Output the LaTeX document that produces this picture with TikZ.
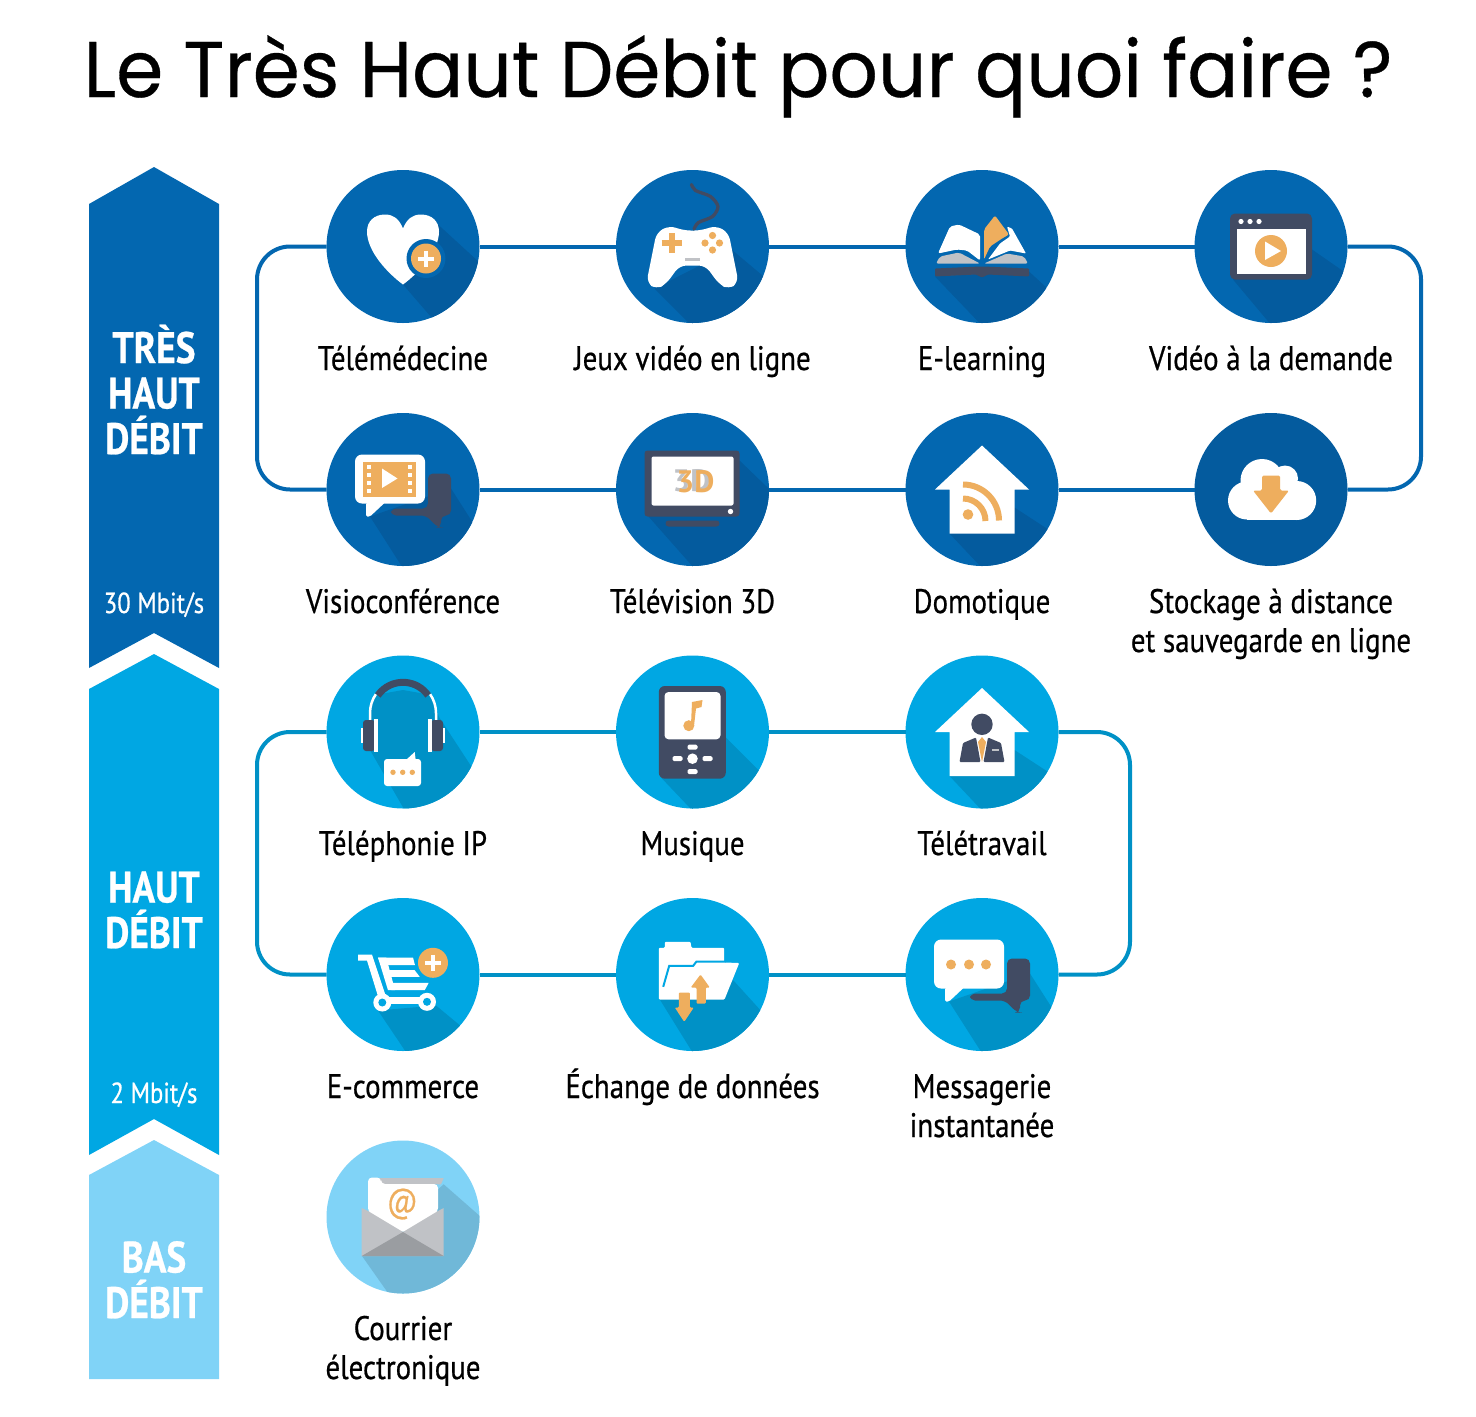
\documentclass[tikz,border=0pt]{standalone}
\usepackage{fontspec}
\usepackage{tikz}
\newfontfamily\labelfont[FakeStretch=0.85,FakeBold=0.6]{PT Sans}
\newfontfamily\plainfont{PT Sans}
\newfontfamily\titlefont[FakeStretch=0.96,FakeBold=0.4]{Poppins}
\definecolor{topblue}{HTML}{0367B0}
\definecolor{topshade}{HTML}{045B9E}
\definecolor{midblue}{HTML}{00A7E3}
\definecolor{midshade}{HTML}{0091C6}
\definecolor{lowblue}{HTML}{80D3F7}
\definecolor{lowshade}{HTML}{70B8D8}
\definecolor{slate}{HTML}{414B63}
\definecolor{peach}{HTML}{EEAE5E}
\definecolor{paleg}{HTML}{C0C2C6}
\definecolor{darkg}{HTML}{9A9DA1}
\tikzset{
disc/.style={circle, minimum size=153pt, inner sep=0pt, outer sep=0pt},
toplink/.style={line width=4pt, topblue},
midlink/.style={line width=4pt, midshade},
lab/.style={anchor=base, align=center, text=black, inner sep=0pt, font=\labelfont\fontsize{34}{39}\selectfont},
band/.style={anchor=base, align=center, text=white, inner sep=0pt, font=\labelfont\bfseries\fontsize{44}{45.5}\selectfont},
speed/.style={anchor=base, text=white, inner sep=0pt, font=\labelfont\fontsize{29}{32}\selectfont},
plusbar/.style={white, line width=4pt}
}
% shadow of an icon, cut by its disc
\newcommand{\castshadow}[2]{\begin{scope}\clip (0,0) circle [radius=76.5pt]; \fill [#1] #2; \end{scope}}
\newcommand{\bubblepair}{
\fill [slate, rounded corners=5pt] (25,-16) -- (48,-16) -- (48,26) -- (38,26) -- (38,38) -- (35,38) -- (23,26) -- (-12,26) -- (-12,19) -- (25,19) -- cycle;
\fill [white, rounded corners=1.5pt] (-37,13) -- (-37,27) -- (-33,27) -- (-18,13) -- cycle;
\fill [white, rounded corners=7pt] (-48,-35) rectangle (22,14);
}
\newcommand{\housebody}{
\fill [white] (0,-44) -- (47,0) -- (32.5,0) -- (32.5,44) -- (-32.5,44) -- (-32.5,0) -- (-47,0) -- cycle;
}
\begin{document}
\begin{tikzpicture}[x=1pt,y=-1pt]
\useasboundingbox (0,0) rectangle (1476,1417);

\node [anchor=base, inner sep=0pt, font=\titlefont\fontsize{79}{90}\selectfont] (title) at (738,97) {Le Très Haut Débit pour quoi faire ?};

% ribbons
\fill [topblue] (89,204) -- (154,167) -- (219,204) -- (219,668) -- (154,633) -- (89,668) -- cycle;
\fill [midblue] (89,689) -- (154,654) -- (219,689) -- (219,1155) -- (154,1119) -- (89,1155) -- cycle;
\fill [lowblue] (89,1175) -- (154,1140) -- (219,1175) -- (219,1379) -- (89,1379) -- cycle;
\node [band] (bandtop) at (154,454) {TRÈS\\HAUT\\DÉBIT};
\node [band] (bandmid) at (154,948) {HAUT\\DÉBIT};
\node [band] (bandlow) at (154,1318) {BAS\\DÉBIT};
\node [speed] (speedtop) at (154,613) {30 Mbit/s};
\node [speed] (speedmid) at (154,1103) {2 Mbit/s};

\foreach \nm/\xc/\yc/\fc in {tele/403/246.5/topblue, jeux/692.5/246.5/topblue, learn/982/246.5/topblue, vod/1271/246.5/topblue,
visio/403/489.5/topblue, tv/692.5/489.5/topblue, domo/982/489.5/topblue, cloud/1271/489.5/topshade,
voip/403/732/midblue, music/692.5/732/midblue, home/982/732/midblue,
shop/403/974.5/midblue, share/692.5/974.5/midblue, chat/982/974.5/midblue,
mail/403/1217/lowblue}
{
\node [disc, fill=\fc] (\nm) at (\xc,\yc) {};
}

\coordinate (topnw) at (257,246.5);
\coordinate (topsw) at (257,489.5);
\coordinate (topne) at (1421,246.5);
\coordinate (topse) at (1421,489.5);
\coordinate (midnw) at (257,732);
\coordinate (midsw) at (257,974.5);
\coordinate (midne) at (1130,732);
\coordinate (midse) at (1130,974.5);

\foreach \a/\b in {tele/jeux, jeux/learn, learn/vod, visio/tv, tv/domo, domo/cloud}
{
\draw [toplink] (\a) -- (\b);
}
\foreach \a/\b in {voip/music, music/home, shop/share, share/chat}
{
\draw [midlink] (\a) -- (\b);
}
\draw [toplink, rounded corners=33pt] (tele) -- (topnw) -- (topsw) -- (visio);
\draw [toplink, rounded corners=33pt] (vod) -- (topne) -- (topse) -- (cloud);
\draw [midlink, rounded corners=33pt] (voip) -- (midnw) -- (midsw) -- (shop);
\draw [midlink, rounded corners=33pt] (home) -- (midne) -- (midse) -- (chat);

\node [lab] (labtele) at (403,370) {Télémédecine};
\node [lab] (labjeux) at (692.5,370) {Jeux vidéo en ligne};
\node [lab] (lablearn) at (982,370) {E-learning};
\node [lab] (labvod) at (1271,370) {Vidéo à la demande};
\node [lab] (labvisio) at (403,613) {Visioconférence};
\node [lab] (labtv) at (692.5,613) {Télévision 3D};
\node [lab] (labdomo) at (982,613) {Domotique};
\node [lab] (labcloud) at (1271,652) {Stockage à distance\\et sauvegarde en ligne};
\node [lab] (labvoip) at (403,855) {Téléphonie IP};
\node [lab] (labmusic) at (692.5,855) {Musique};
\node [lab] (labhome) at (982,855) {Télétravail};
\node [lab] (labshop) at (403,1098) {E-commerce};
\node [lab] (labshare) at (692.5,1098) {Échange de données};
\node [lab] (labchat) at (982,1137) {Messagerie\\instantanée};
\node [lab] (labmail) at (403,1379) {Courrier\\électronique};

% heart
\begin{scope}[shift={(tele)}]
\castshadow{topshade}{(35,-22) -- (95,33) -- (95,95) -- (45,90) -- (0,38) -- cycle}
\fill [white] (0,-18) .. controls (-4,-28) and (-10,-32) .. (-18,-32) .. controls (-29,-32) and (-36,-25) .. (-36,-15) .. controls (-36,5) and (-15,27) .. (0,38) .. controls (15,27) and (36,5) .. (36,-15) .. controls (36,-25) and (29,-32) .. (18,-32) .. controls (10,-32) and (4,-28) .. (0,-18) -- cycle;
\fill [topblue] (23,12) circle [radius=19.5pt];
\fill [peach] (23,12) circle [radius=15pt];
\draw [plusbar] (15,12) -- (31,12) (23,4) -- (23,20);
\end{scope}

% game pad
\begin{scope}[shift={(jeux)}]
\castshadow{topshade}{(39,3) -- (95,50) -- (95,100) -- (20,100) -- (-38,42) -- cycle}
\fill [white, rounded corners=7pt] (-9,-16) -- (-23,-21) -- (-36,-14) -- (-46,36) -- (-36,43) -- (-26,37) -- (-13,19) -- (13,19) -- (26,37) -- (36,43) -- (46,36) -- (36,-14) -- (23,-21) -- (9,-16) -- cycle;
\draw [slate, line width=3.3pt, line cap=round] plot [smooth] coordinates {(1.5,-17.5) (6,-24) (20,-30) (25.5,-40) (18,-50) (3,-56) (-1,-62)};
\draw [peach, line width=6pt] (-31,-3.5) -- (-11,-3.5) (-21,-13.5) -- (-21,6.5);
\foreach \bx/\by in {20/-11, 12.5/-3.5, 27/-3.5, 20/3.5}
{
\fill [peach] (\bx,\by) circle [radius=3.6pt];
}
\draw [paleg, line width=2.5pt] (-7.5,13) -- (7.5,13);
\end{scope}

% book
\begin{scope}[shift={(learn)}]
\castshadow{topshade}{(47,25) -- (85,60) -- (60,110) -- (20,100) -- (-47,30) -- cycle}
\fill [white, rounded corners=2pt] (-44,7) -- (-32,-20) -- (-23,-22) -- (-2,-12) -- (-2,14) -- (-15,4) -- (-25,3) -- cycle;
\fill [peach, rounded corners=2pt] (2,13) -- (2,-17) -- (13,-31) -- (27,-12) -- (20,-8) -- (8,0) -- cycle;
\fill [white, rounded corners=1pt] (6,13) -- (18,-3) -- (28,-10) -- (25,-20) -- (30,-18) -- (44,7) -- (28,4) -- cycle;
\fill [paleg, rounded corners=2pt] (-46,17) -- (-42,10) -- (-23,6) -- (-2,17) -- cycle;
\fill [paleg, rounded corners=2pt] (2,17) -- (25,7) -- (42,10) -- (46,17) -- cycle;
\fill [slate, rounded corners=1pt] (-47,22) -- (-2,20) -- (2,20) -- (47,22) -- (47,30) -- (6,28) -- (0,31) -- (-6,28) -- (-47,30) -- cycle;
\end{scope}

% video window
\begin{scope}[shift={(vod)}]
\castshadow{topshade}{(41,3) -- (100,44) -- (60,110) -- (35,120) -- (-38,33) -- cycle}
\fill [slate, rounded corners=5pt] (-41,-33) rectangle (41,33);
\fill [white] (-34.5,-18) rectangle (35,27);
\foreach \dx in {-30,-21,-12}
{
\fill [white] (\dx,-25) circle [radius=2.6pt];
}
\fill [peach] (0,4.5) circle [radius=16pt];
\fill [white] (-6,-5) -- (10,4.5) -- (-6,13.5) -- cycle;
\end{scope}

% video call
\begin{scope}[shift={(visio)}]
\castshadow{topshade}{(48,-1) -- (85,57) -- (60,110) -- (20,110) -- (-33,27) -- cycle}
\bubblepair
\fill [peach] (-40,-28) rectangle (13,7);
\foreach \sy in {-23,-15,-6.7,1.7}
{
\fill [white] (-36,\sy-2) rectangle (-32,\sy+2);
\fill [white] (4.7,\sy-2) rectangle (8.7,\sy+2);
}
\fill [white] (-21,-21) -- (-5.5,-11) -- (-21,-1.5) -- cycle;
\end{scope}

% television
\begin{scope}[shift={(tv)}]
\castshadow{topshade}{(47,-29) -- (100,22) -- (60,110) -- (25,105) -- (-44,27) -- cycle}
\fill [slate, rounded corners=3pt] (-48,-39) rectangle (47,27);
\fill [white, rounded corners=2pt] (-41,-33) rectangle (41,16);
\fill [white] (38,22) circle [radius=2.7pt];
\fill [slate, rounded corners=3pt] (-27,31) rectangle (27,37);
\node [inner sep=0pt, text=paleg, font=\plainfont\bfseries\fontsize{31}{31}\selectfont] (threedback) at (-1,-9) {3D};
\node [inner sep=0pt, text=peach, font=\plainfont\bfseries\fontsize{31}{31}\selectfont] (threed) at (3,-8) {3D};
\end{scope}

% house with feed
\begin{scope}[shift={(domo)}]
\castshadow{topshade}{(32.5,18) -- (100,62) -- (60,110) -- (25,105) -- (-32.5,44) -- cycle}
\housebody
\fill [peach] (-14,25) circle [radius=5.3pt];
\draw [peach, line width=6pt] (-19,9) arc [start angle=90, end angle=0, radius=22.5pt];
\draw [peach, line width=6pt] (-19,-5) arc [start angle=90, end angle=0, radius=36pt];
\end{scope}

% cloud
\begin{scope}[shift={(cloud)}]
\fill [white] (-24,11) circle [radius=19pt];
\fill [white] (-9,-9) circle [radius=21.5pt];
\fill [white] (14,-11) circle [radius=13pt];
\fill [white] (25.7,11) circle [radius=19.5pt];
\fill [white] (-24,-5) rectangle (25,30.3);
\fill [peach, rounded corners=1.5pt] (-9,-14) -- (9,-14) -- (9,1) -- (18,1) -- (0,24) -- (-18,1) -- (-9,1) -- cycle;
\end{scope}

% headset
\begin{scope}[shift={(voip)}]
\castshadow{midshade}{(-28,-37) -- (0,-42) -- (28,-37) -- (36,-15) -- (85,60) -- (60,110) -- (20,110) -- (-33,18) -- (-33,-19) -- cycle}
\draw [white, line width=2.5pt] (-33,-12) -- (-33,-19) arc [start angle=180, end angle=145, radius=33pt];
\draw [white, line width=2.5pt] (33,-12) -- (33,-19) arc [start angle=0, end angle=35, radius=33pt];
\draw [slate, line width=7pt] (-25.2,-36.6) arc [start angle=145, end angle=35, radius=30.7pt];
\foreach \sg in {-1,1}
{
\fill [slate, rounded corners=3pt] (\sg*40,-12) rectangle (\sg*28,19);
\fill [white] (\sg*29,-13) rectangle (\sg*25,20);
\fill [white] (\sg*42.3,-4) rectangle (\sg*40,11);
}
\fill [white] (3,28) -- (11.7,20) -- (12.7,28) -- cycle;
\fill [white, rounded corners=3pt] (-19,27) rectangle (18,54);
\foreach \dx in {-10,-0.3,9.3}
{
\fill [peach] (\dx,40.3) circle [radius=2.7pt];
}
\end{scope}

% music player
\begin{scope}[shift={(music)}]
\castshadow{midshade}{(33,5) -- (90,62) -- (60,110) -- (25,105) -- (-31,46) -- cycle}
\fill [slate, rounded corners=6pt] (-33.7,-46) rectangle (33.3,46.7);
\fill [white, rounded corners=4pt] (-28,-40) -- (28,-40) -- (28,7.3) -- (-28,7.3) -- cycle;
\fill [peach] (-3.7,-6.3) circle [radius=5.5pt];
\fill [peach] (-0.5,-30) -- (10,-32) -- (9,-25) -- (3.5,-23.5) -- (1.5,-6) -- (-1.5,-7) -- cycle;
\fill [white] (0,26.7) circle [radius=5.3pt];
\foreach \px/\py in {0/15, 0/39.5, -15/26.7, 15/26.7}
{
\fill [white, rounded corners=1.5pt] (\px-5,\py-2.5) rectangle (\px+5,\py+2.5);
}
\end{scope}

% remote work
\begin{scope}[shift={(home)}]
\castshadow{midshade}{(32.5,18) -- (100,62) -- (60,110) -- (25,105) -- (-32.5,44) -- cycle}
\housebody
\fill [slate] (0,-7.7) circle [radius=10.7pt];
\fill [slate, rounded corners=1pt] (-22.5,30) -- (-19,11) -- (-6,5.5) -- (-1.5,30) -- cycle;
\fill [slate, rounded corners=1pt] (1.5,30) -- (6,5.5) -- (19,11) -- (22.5,30) -- cycle;
\fill [peach] (-4,10) -- (0,5) -- (4,10) -- (0,30) -- cycle;
\draw [paleg, line width=1.5pt] (10,18) -- (17,18);
\end{scope}

% trolley
\begin{scope}[shift={(shop)}]
\castshadow{midshade}{(-25,36) -- (10,88) -- (60,110) -- (80,70) -- (33,31) -- cycle}
\fill [white] (-45,-20) -- (-31,-20) -- (-17,22) -- (-24,25) -- (-36,-14) -- (-45,-14) -- cycle;
\fill [white] (-25,-17) -- (-16.7,-17) -- (-8,15.7) -- (-15,15.7) -- cycle;
\fill [white] (-25,-17) -- (10,-17) -- (12,-9.3) -- (-22,-9.3) -- cycle;
\fill [white] (-16.7,-4.3) -- (11.7,-4.3) -- (16.7,2.3) -- (-15,2.3) -- cycle;
\fill [white] (-13,8.3) -- (25.7,8.3) -- (21.7,15.7) -- (-11.7,15.7) -- cycle;
\fill [white] (-20,22) rectangle (24,29);
\foreach \wx/\wy in {-20.7/28, 24/27.3}
{
\fill [white] (\wx,\wy) circle [radius=9pt];
\fill [midblue] (\wx,\wy) circle [radius=4pt];
}
\fill [peach] (30,-11.7) circle [radius=15pt];
\draw [plusbar] (22,-11.7) -- (38,-11.7) (30,-19.7) -- (30,-3.7);
\end{scope}

% folder
\begin{scope}[shift={(share)}]
\castshadow{midshade}{(40.7,5.7) -- (90,60) -- (60,110) -- (20,110) -- (-32.7,25) -- cycle}
\fill [white, rounded corners=1pt] (-33.7,25) -- (-33.7,-26.7) -- (-27.7,-26.7) -- (-27.7,-32.7) -- (-2,-32.7) -- (-1,-26.7) -- (31.7,-26.7) -- (31.7,-12) -- (46.7,-11.5) -- (32,25) -- cycle;
\draw [midblue, line width=2pt] (-29.3,12.3) -- (-23.3,-8.7) -- (0.7,-8.7) -- (4,-13) -- (33,-13);
\fill [peach, rounded corners=1pt] (8,0) -- (17.3,13) -- (13.3,13) -- (13.3,29) -- (4,29) -- (4,13) -- (-1.7,13) -- cycle;
\fill [peach, rounded corners=1pt] (-13.7,18) -- (-2.7,18) -- (-2.7,33) -- (1.3,33) -- (-8.3,47.3) -- (-17.7,33) -- (-13.7,33) -- cycle;
\end{scope}

% chat
\begin{scope}[shift={(chat)}]
\castshadow{midshade}{(48,-1) -- (85,57) -- (60,110) -- (20,110) -- (-33,27) -- cycle}
\bubblepair
\foreach \dx in {-31,-13,4}
{
\fill [peach] (\dx,-10) circle [radius=5pt];
}
\end{scope}

% envelope
\begin{scope}[shift={(mail)}]
\castshadow{lowshade}{(40.7,-32.7) -- (95,15) -- (60,110) -- (2,100) -- (-41,39) -- cycle}
\fill [paleg] (-28,-39) -- (40.7,-39) -- (38,-32.7) -- (-21.7,-32.7) -- cycle;
\fill [white, rounded corners=4pt] (-35,-5) -- (-35,-39.5) -- (-22,-39.5) -- (-22,-33) -- (35,-33) -- (35,-5) -- (0,16) -- cycle;
\fill [paleg] (-41.3,-9) -- (-35,-6) -- (0,15) -- (35,-6) -- (40.7,-9) -- (40.7,39) -- (-41.3,39) -- cycle;
\fill [darkg] (0,15) -- (40.7,39) -- (-41.3,39) -- cycle;
\node [inner sep=0pt, text=peach, font=\labelfont\fontsize{34}{34}\selectfont] (atsign) at (-0.7,-13) {@};
\end{scope}

\end{tikzpicture}
\end{document}
